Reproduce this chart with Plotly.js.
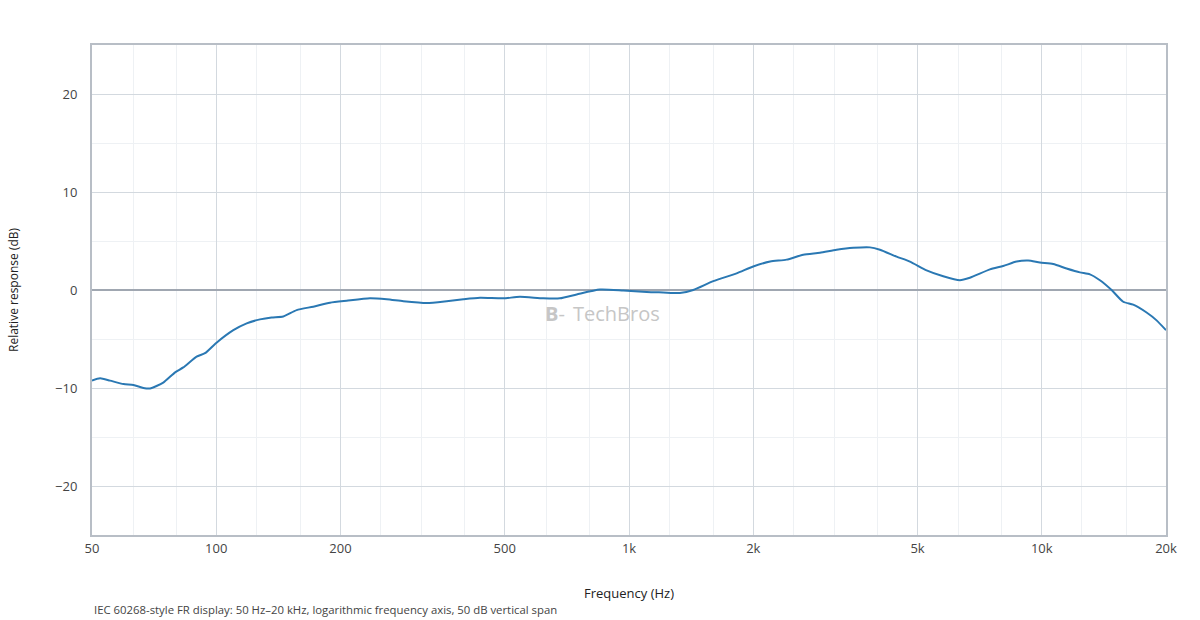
<!DOCTYPE html>
<html>
<head>
<meta charset="utf-8">
<script src="https://cdn.plot.ly/plotly-3.0.1.min.js"></script>
<style>
  html, body { margin: 0; padding: 0; background: #fff; }
  #chart { width: 1200px; height: 620px; }
</style>
</head>
<body>
<div id="chart"></div>
<script>
var freqHz = [50, 52.3, 55.3, 59.6, 63, 66.6, 69.1, 74.4, 79.5, 83.2, 89.6, 93.9,
    100, 110, 118.5, 127.6, 136.2, 145.3, 156.6, 171.8, 188.6, 207, 235.7, 258.8,
    284, 323.6, 361.6, 396.8, 435.5, 495.8, 544, 620, 680, 747, 850, 969,
    1104, 1210, 1328, 1431, 1600, 1823, 2000, 2198, 2409, 2643, 2901, 3184,
    3494, 3835, 4055, 4450, 4793, 5260, 5772, 6334, 6697, 7489, 8065, 8690,
    9271, 9897, 10660, 11484, 12372, 13081, 13833, 14766, 15751, 16654, 17947,
    18978, 20000];
var responseDb = [-9.25, -9.0, -9.25, -9.6, -9.7, -10.0, -10.05, -9.45, -8.4, -7.9, -6.8, -6.45,
    -5.4, -4.1, -3.4, -3.0, -2.8, -2.7, -2.05, -1.7, -1.3, -1.1, -0.85, -0.95,
    -1.15, -1.33, -1.15, -0.95, -0.8, -0.85, -0.7, -0.85, -0.85, -0.45, 0.05, -0.05,
    -0.2, -0.25, -0.3, 0, 0.9, 1.7, 2.4, 2.9, 3.1, 3.6, 3.8, 4.1,
    4.3, 4.35, 4.1, 3.4, 2.9, 2.0, 1.4, 1.0, 1.25, 2.1, 2.45, 2.9,
    3.0, 2.8, 2.65, 2.2, 1.8, 1.6, 1.0, 0, -1.2, -1.5, -2.3,
    -3.1, -4.1];

var xTickVals = [50, 100, 200, 500, 1000, 2000, 5000, 10000, 20000];
var xTickText = ['50', '100', '200', '500', '1k', '2k', '5k', '10k', '20k'];
// third-octave lines between the labelled ones
var xMinorVals = [63, 80, 125, 160, 250, 315, 400, 630, 800, 1250, 1600, 2500,
    3150, 4000, 6300, 8000, 12500, 16000];
var yTickVals = [-20, -10, 0, 10, 20];

var font = 'Open Sans, Noto Sans, sans-serif';

var trace = {
    x: freqHz,
    y: responseDb,
    type: 'scatter',
    mode: 'lines',
    line: {color: '#2a78b3', width: 2, shape: 'spline', smoothing: 0.6},
    hoverinfo: 'skip'
};

var layout = {
    width: 1200,
    height: 620,
    margin: {l: 92, r: 34, t: 45, b: 85, pad: 0},
    paper_bgcolor: '#fff',
    plot_bgcolor: '#fff',
    font: {family: font, size: 13, color: '#444'},
    showlegend: false,
    xaxis: {
        type: 'log',
        range: [Math.log10(50), Math.log10(20000)],
        tickmode: 'array',
        tickvals: xTickVals,
        ticktext: xTickText,
        ticks: '',
        tickfont: {size: 13, color: '#444'},
        showgrid: true,
        gridcolor: '#d3d9df',
        gridwidth: 1,
        minor: {
            tickmode: 'array',
            tickvals: xMinorVals,
            showgrid: true,
            gridcolor: '#eef1f4',
            gridwidth: 1,
            ticks: ''
        },
        showline: true,
        linecolor: '#b8bec6',
        linewidth: 2,
        mirror: true,
        zeroline: false,
        title: {text: 'Frequency (Hz)', font: {size: 13, color: '#222'}, standoff: 33}
    },
    yaxis: {
        range: [-25, 25],
        tickmode: 'array',
        tickvals: yTickVals,
        ticks: '',
        ticklabelstandoff: 10,
        tickfont: {size: 13, color: '#444'},
        showgrid: true,
        gridcolor: '#d3d9df',
        gridwidth: 1,
        minor: {
            dtick: 5,
            tick0: 0,
            showgrid: true,
            gridcolor: '#eef1f4',
            gridwidth: 1,
            ticks: ''
        },
        showline: true,
        linecolor: '#b8bec6',
        linewidth: 2,
        mirror: true,
        zeroline: true,
        zerolinecolor: '#a0a7b1',
        zerolinewidth: 2,
        title: {text: 'Relative response (dB)', font: {size: 12, color: '#222'}, standoff: 34}
    },
    annotations: [
        {
            // watermark logo mark
            text: '<b>B</b>-',
            xref: 'paper', yref: 'paper',
            x: 0.431, y: 0.453,
            xanchor: 'center', yanchor: 'middle',
            showarrow: false,
            font: {family: font, size: 20, color: '#c6c6c6'}
        },
        {
            text: 'TechBros',
            xref: 'paper', yref: 'paper',
            x: 0.488, y: 0.453,
            xanchor: 'center', yanchor: 'middle',
            showarrow: false,
            font: {family: font, size: 20, color: '#c6c6c6'}
        },
        {
            text: 'IEC 60268-style FR display: 50 Hz\u201320 kHz, logarithmic frequency axis, 50 dB vertical span',
            xref: 'paper', yref: 'paper',
            x: 0, y: -0.152,
            xanchor: 'left', yanchor: 'middle',
            showarrow: false,
            font: {family: font, size: 11.35, color: '#444'}
        }
    ]
};

Plotly.newPlot('chart', [trace], layout, {displayModeBar: false, staticPlot: true});
</script>
</body>
</html>
